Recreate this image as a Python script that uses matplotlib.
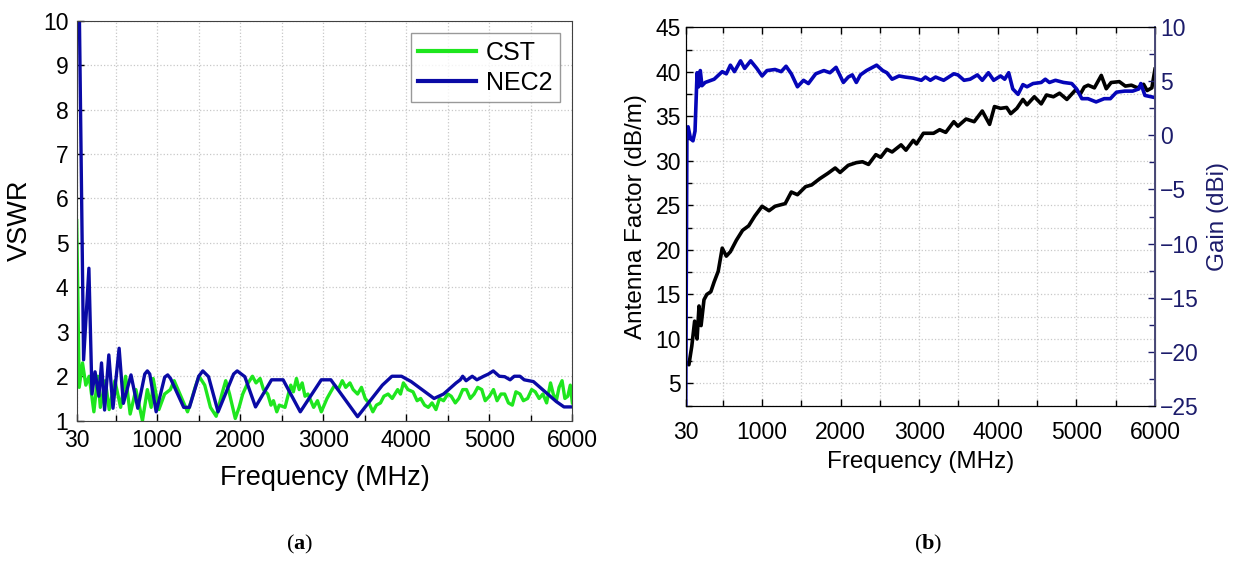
import numpy as np
import matplotlib.pyplot as plt
from matplotlib.ticker import MultipleLocator, FixedLocator

plt.rcParams['font.family'] = ['Liberation Sans', 'DejaVu Sans']
plt.rcParams['mathtext.fontset'] = 'custom'
plt.rcParams['mathtext.bf'] = 'Liberation Serif:bold'
plt.rcParams['mathtext.rm'] = 'Liberation Serif'

# (a) VSWR
f_nec = [30, 60, 113, 177, 214, 251, 297, 329, 366, 417, 467, 541, 592, 684, 766, 850, 881,
         910, 987, 1090, 1126, 1160, 1319, 1388, 1500, 1549, 1618, 1733, 1920, 1963, 2055,
         2184, 2377, 2516, 2723, 2976, 3091, 3413, 3712, 3827, 3942, 4058, 4334, 4449,
         4600, 4650, 4679, 4720, 4794, 4850, 4932, 4990, 5047, 5120, 5185, 5250, 5300,
         5369, 5420, 5531, 5807, 5899, 6000]
v_nec = [12.0, 10.5, 2.37, 4.43, 1.6, 2.1, 1.55, 2.3, 1.24, 2.48, 1.28, 2.63, 1.39, 2.03,
         1.28, 2.05, 2.12, 2.05, 1.2, 1.98, 2.03, 1.95, 1.3, 1.3, 2.0, 2.12, 1.99, 1.2,
         2.05, 2.12, 1.99, 1.31, 1.92, 1.92, 1.2, 1.92, 1.92, 1.09, 1.8, 2.0, 2.0, 1.88,
         1.5, 1.6, 1.85, 1.92, 2.0, 1.9, 2.0, 1.92, 2.0, 2.05, 2.12, 2.0, 1.99, 1.92, 2.0,
         2.0, 1.92, 1.88, 1.43, 1.31, 1.31]

f_cst = [30, 60, 100, 140, 180, 237, 283, 315, 375, 421, 490, 559, 619, 674, 743, 822,
         881, 927, 951, 1020, 1089, 1158, 1204, 1250, 1296, 1365, 1410, 1457, 1503,
         1572, 1641, 1710, 1779, 1825, 1871, 1940, 1986, 2030, 2078, 2147, 2190, 2239,
         2280, 2331, 2370, 2400, 2440, 2470, 2539, 2580, 2608, 2640, 2677, 2710, 2746,
         2780, 2815, 2884, 2930, 2976, 3045, 3090, 3137, 3180, 3229, 3270, 3321, 3360,
         3413, 3460, 3505, 3550, 3597, 3640, 3689, 3730, 3781, 3830, 3896, 3930, 3965,
         4020, 4081, 4130, 4173, 4220, 4265, 4310, 4357, 4400, 4449, 4500, 4541, 4590,
         4633, 4680, 4725, 4770, 4817, 4860, 4909, 4950, 5001, 5050, 5093, 5140, 5185,
         5230, 5277, 5320, 5369, 5410, 5461, 5510, 5553, 5600, 5645, 5690, 5737, 5770,
         5807, 5840, 5876, 5910, 5945, 5975, 6000]
v_cst = [5.5, 1.75, 2.3, 1.8, 2.0, 1.2, 2.0, 1.3, 1.9, 1.25, 1.9, 1.3, 2.0, 1.15, 1.7, 1.0,
         1.7, 1.3, 1.95, 1.25, 1.6, 1.7, 1.9, 1.7, 1.5, 1.2, 1.45, 1.75, 2.0,
         1.8, 1.3, 1.1, 1.6, 1.9, 1.6, 1.05, 1.3, 1.6, 1.8, 2.0, 1.85, 1.95,
         1.7, 1.6, 1.35, 1.45, 1.2, 1.35, 1.3, 1.6, 1.8, 1.65, 1.95, 1.7, 1.85,
         1.55, 1.6, 1.3, 1.45, 1.2, 1.5, 1.65, 1.8, 1.7, 1.9, 1.75, 1.85, 1.7,
         1.6, 1.75, 1.5, 1.4, 1.2, 1.35, 1.4, 1.55, 1.6, 1.5, 1.7, 1.6, 1.85,
         1.7, 1.65, 1.45, 1.5, 1.35, 1.3, 1.4, 1.25, 1.5, 1.45, 1.6, 1.55, 1.4,
         1.5, 1.7, 1.7, 1.5, 1.6, 1.75, 1.7, 1.45, 1.55, 1.7, 1.45, 1.6, 1.6,
         1.4, 1.35, 1.65, 1.6, 1.45, 1.5, 1.7, 1.65, 1.5, 1.6, 1.4, 1.85, 1.6,
         1.45, 1.75, 1.9, 1.5, 1.55, 1.8, 1.4]

# (b) Antenna factor and gain
f_af = [40, 71, 108, 144, 175, 200, 226, 263, 299, 350, 392, 444, 495, 547, 599, 676,
        754, 831, 909, 1002, 1038, 1090, 1167, 1296, 1374, 1452, 1555, 1633, 1736, 1839,
        1932, 1994, 2098, 2201, 2279, 2356, 2449, 2511, 2589, 2656, 2770, 2832, 2925,
        2966, 3054, 3183, 3261, 3338, 3441, 3493, 3597, 3700, 3803, 3896, 3958, 4036,
        4113, 4165, 4243, 4320, 4372, 4465, 4553, 4620, 4708, 4786, 4879, 4993, 5050,
        5101, 5150, 5229, 5317, 5380, 5442, 5546, 5623, 5700, 5778, 5855, 5900, 5960,
        6000]
af = [7.3, 7.1, 9.2, 12.0, 10.0, 13.7, 11.5, 14.4, 15.0, 15.3, 16.4, 17.6, 20.2, 19.3,
      19.8, 21.1, 22.2, 22.7, 23.8, 24.9, 24.7, 24.4, 24.9, 25.2, 26.5, 26.2, 27.1, 27.3,
      28.0, 28.6, 29.2, 28.7, 29.5, 29.8, 29.9, 29.6, 30.7, 30.4, 31.3, 31.0, 31.8, 31.2,
      32.3, 31.9, 33.1, 33.1, 33.5, 33.2, 34.4, 33.9, 34.7, 34.4, 35.6, 34.1, 36.1, 35.9,
      36.0, 35.3, 35.9, 36.9, 36.3, 37.2, 36.4, 37.4, 37.2, 37.6, 36.9, 38.0, 37.5,
      38.3, 38.5, 38.2, 39.6, 38.1, 38.8, 38.9, 38.4, 38.5, 38.2, 38.6, 37.9, 38.2,
      40.3]

f_gain = [30, 46, 61, 92, 123, 149, 175, 195, 216, 237, 278, 392, 495, 547, 599, 650, 728,
          780, 857, 935, 1002, 1064, 1167, 1245, 1307, 1374, 1452, 1529, 1591, 1684, 1788,
          1865, 1943, 2036, 2098, 2149, 2201, 2253, 2330, 2382, 2459, 2537, 2589, 2656,
          2744, 2821, 2925, 3028, 3080, 3142, 3209, 3312, 3441, 3493, 3571, 3648, 3741,
          3803, 3881, 3948, 4036, 4088, 4139, 4191, 4258, 4320, 4372, 4449, 4553, 4605,
          4657, 4734, 4837, 4941, 5003, 5070, 5147, 5251, 5354, 5432, 5510, 5613, 5716,
          5794, 5820, 5872, 6000]
gain = [-26.0, 0.3, 0.8, -0.3, -0.5, 0.4, 5.8, 4.5, 6.0, 4.6, 4.9, 5.2, 5.9, 5.7, 6.5,
        5.9, 6.9, 6.2, 6.9, 6.2, 5.5, 6.0, 6.1, 5.9, 6.4, 5.7, 4.5, 5.1, 4.8, 5.7, 6.0,
        5.8, 6.3, 4.9, 5.4, 5.6, 4.9, 5.6, 6.0, 6.2, 6.5, 6.0, 5.8, 5.2, 5.5, 5.4, 5.3,
        5.1, 5.4, 5.1, 5.4, 5.1, 5.7, 5.6, 5.1, 5.2, 5.6, 5.1, 5.8, 5.1, 5.5, 5.2, 5.8,
        4.3, 3.8, 4.7, 4.5, 4.8, 4.9, 5.2, 4.9, 5.1, 4.9, 4.8, 4.3, 3.4, 3.4, 3.1, 3.4,
        3.4, 4.0, 4.1, 4.1, 4.3, 4.8, 3.7, 3.5]

xticks = [30, 1000, 2000, 3000, 4000, 5000, 6000]
xminor = [500, 1500, 2500, 3500, 4500, 5500]

fig = plt.figure(figsize=(12.37, 5.61), dpi=100)

# ---- panel (a)
ax1 = fig.add_axes([0.062, 0.2501, 0.4007, 0.713])
ax1.plot(f_cst, v_cst, color='#1ee61e', lw=2.4, label='CST')
ax1.plot(f_nec, v_nec, color='#0a0aa5', lw=2.4, label='NEC2')
ax1.set_xlim(30, 6000)
ax1.set_ylim(1, 10)
ax1.xaxis.set_major_locator(FixedLocator(xticks))
ax1.xaxis.set_minor_locator(FixedLocator(xminor))
ax1.yaxis.set_major_locator(MultipleLocator(1))
ax1.grid(True, which='both', axis='x', color='#c8c8c8', ls=':', lw=0.9)
ax1.grid(True, which='major', axis='y', color='#c8c8c8', ls=':', lw=0.9)
ax1.tick_params(direction='in', labelsize=16.5, length=5, width=1, pad=6)
ax1.tick_params(which='minor', direction='in', length=4, width=1)
for s in ax1.spines.values():
    s.set_color('#404040')
ax1.set_xlabel('Frequency (MHz)', fontsize=19.5, labelpad=9)
ax1.set_ylabel('VSWR', fontsize=19.5, labelpad=7)
leg = ax1.legend(loc='upper right', fontsize=18, frameon=True, fancybox=False,
                 edgecolor='#808080', handlelength=2.3, borderpad=0.3,
                 labelspacing=0.25, handletextpad=0.4, borderaxespad=0.5)
leg.get_frame().set_linewidth(1.0)
for ln in leg.get_lines():
    ln.set_linewidth(3)

# ---- panel (b)
navy = '#1c1c6b'
ax2 = fig.add_axes([0.5543, 0.2768, 0.3794, 0.6745])
ax2.plot(f_af, af, color='black', lw=2.6)
ax2.set_xlim(30, 6000)
ax2.set_ylim(2.5, 45)
ax2.xaxis.set_major_locator(FixedLocator(xticks))
ax2.xaxis.set_minor_locator(FixedLocator(xminor))
ax2.yaxis.set_major_locator(MultipleLocator(5))
ax2.yaxis.set_minor_locator(MultipleLocator(2.5))
ax2.grid(True, which='both', color='#c8c8c8', ls=':', lw=0.9)
ax2.tick_params(direction='in', labelsize=16.5, length=5, width=1, top=True)
ax2.tick_params(which='minor', direction='in', length=4, width=1, top=True)
ax2.tick_params(axis='x', pad=11)
ax2.set_xlabel('Frequency (MHz)', fontsize=17.5, labelpad=5)
ax2.set_ylabel('Antenna Factor (dB/m)', fontsize=17.5, labelpad=6)

ax3 = ax2.twinx()
ax3.plot(f_gain, gain, color='#0505b8', lw=2.6)
ax3.set_ylim(-25, 10)
ax3.yaxis.set_major_locator(MultipleLocator(5))
ax3.yaxis.set_minor_locator(MultipleLocator(2.5))
ax3.tick_params(axis='y', direction='in', labelsize=16.5, length=5, width=1,
                colors=navy)
ax3.tick_params(axis='y', which='minor', direction='in', length=4, width=1,
                colors=navy)
ax3.spines['right'].set_color('#4a4a78')
ax3.spines['right'].set_linewidth(1.4)
ax3.set_ylabel('Gain (dBi)', fontsize=17.5, color=navy, labelpad=6)
ax3.set_yticklabels([str(int(t)).replace('-', '\u2212') for t in ax3.get_yticks()])

fig.text(0.2425, 0.03, r'($\mathbf{a}$)', fontsize=16, ha='center', va='center',
         family='Liberation Serif')
fig.text(0.75, 0.03, r'($\mathbf{b}$)', fontsize=16, ha='center', va='center',
         family='Liberation Serif')

fig.savefig('out.png', dpi=100)
